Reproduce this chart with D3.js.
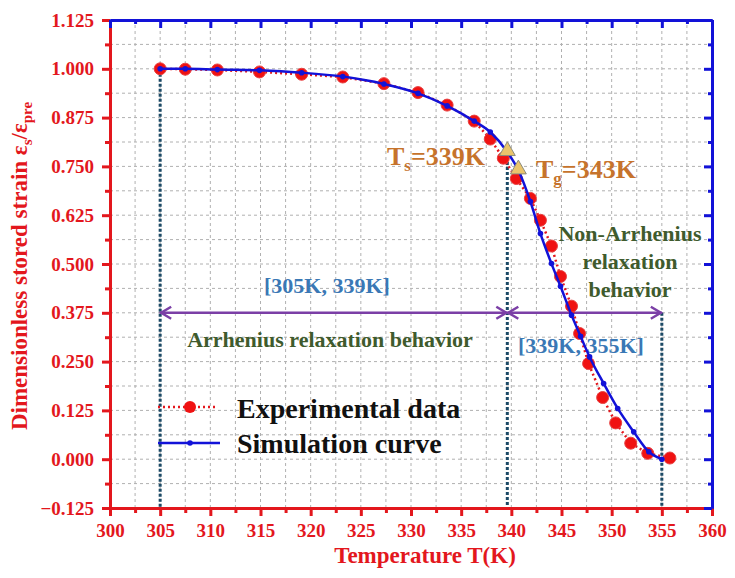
<!DOCTYPE html>
<html>
<head>
<meta charset="utf-8">
<script src="https://d3js.org/d3.v7.min.js"></script>
<style>
  html, body { margin: 0; padding: 0; background: #fff; }
  svg { display: block; font-family: "Liberation Serif", "DejaVu Serif", serif; font-weight: bold; }
</style>
</head>
<body>
<div id="chart"></div>
<script>
// experimental data (red circles)
const expT = [305, 307.5, 310.7, 314.9, 319.1, 323.2, 327.3, 330.7, 333.6, 336.3, 337.9, 339.2,
  340.5, 341.9, 342.9, 344.0, 344.9, 346.0, 346.8, 347.7, 349.1, 350.4, 351.9, 353.6, 355.8];
const expV = [1.000, 0.999, 0.997, 0.992, 0.986, 0.979, 0.962, 0.939, 0.907, 0.866, 0.820, 0.771,
  0.719, 0.668, 0.612, 0.546, 0.468, 0.392, 0.322, 0.245, 0.158, 0.093, 0.041, 0.015, 0.003];

// simulation curve (blue)
const simT = [305, 307.5, 310.7, 314.9, 319.1, 323.2, 327.3, 330.7, 333.6, 336.3, 337.9, 339.6,
  340.7, 341.9, 342.9, 344.0, 344.9, 346.0, 346.9, 347.8, 349.2, 350.6, 352.2, 353.7, 355.0];
const simV = [1.000, 1.000, 0.998, 0.996, 0.990, 0.980, 0.961, 0.937, 0.905, 0.866, 0.838, 0.787,
  0.740, 0.660, 0.578, 0.501, 0.443, 0.369, 0.315, 0.262, 0.194, 0.130, 0.070, 0.019, 0.000];

// characteristic temperatures (marker position)
const markT = [339.6, 340.7];
const markV = [0.787, 0.740];

// range bounds for the arrows / dotted lines
const rangeT = [305, 339.6, 355];
const arrowV = 0.375;

const xTicks = d3.range(300, 361, 5);
const yTicks = d3.range(-0.125, 1.1251, 0.125);

const W = 735, H = 578;
const margin = { top: 20, right: 23, bottom: 70, left: 110 };

const red = "#e3171d", blue = "#1212d8", grid = "#b0b0b0";

const svg = d3.select("#chart").append("svg").attr("width", W).attr("height", H);

const x = d3.scaleLinear().domain([300, 360]).range([margin.left, W - margin.right]);
const y = d3.scaleLinear().domain([-0.125, 1.125]).range([H - margin.bottom, margin.top]);

// grid at every minor step
const gx = d3.range(302.5, 360, 2.5);
const gy = d3.range(-0.0625, 1.125, 0.0625);
svg.append("g").selectAll("line").data(gx).join("line")
  .attr("x1", d => x(d)).attr("x2", d => x(d))
  .attr("y1", y.range()[0]).attr("y2", y.range()[1])
  .attr("stroke", grid).attr("stroke-width", 1).attr("stroke-dasharray", "3,3");
svg.append("g").selectAll("line").data(gy).join("line")
  .attr("y1", d => y(d)).attr("y2", d => y(d))
  .attr("x1", x.range()[0]).attr("x2", x.range()[1])
  .attr("stroke", grid).attr("stroke-width", 1).attr("stroke-dasharray", "3,3");

// dotted vertical guides
const guideTop = [1.0, 0.787, arrowV];
svg.append("g").selectAll("line").data(rangeT).join("line")
  .attr("x1", d => x(d)).attr("x2", d => x(d))
  .attr("y1", (d, i) => y(guideTop[i])).attr("y2", y(-0.125))
  .attr("stroke", "#1c4a66").attr("stroke-width", 3).attr("stroke-dasharray", "3,2");

// purple double arrows
const purple = "#7b3fa6";
const arrows = svg.append("g").attr("stroke", purple).attr("stroke-width", 2.5).attr("fill", "none");
[[rangeT[0], rangeT[1]], [rangeT[1], rangeT[2]]].forEach(([a, b]) => {
  const ya = y(arrowV);
  arrows.append("line").attr("x1", x(a)).attr("x2", x(b)).attr("y1", ya).attr("y2", ya);
  arrows.append("path").attr("d", `M${x(a) + 11},${ya - 6} L${x(a) + 1},${ya} L${x(a) + 11},${ya + 6}`);
  arrows.append("path").attr("d", `M${x(b) - 11},${ya - 6} L${x(b) - 1},${ya} L${x(b) - 11},${ya + 6}`);
});

// annotation texts
const ann = svg.append("g").attr("font-size", 22);
ann.append("text").attr("x", 327).attr("y", 293).attr("text-anchor", "middle")
  .attr("fill", "#3a78b5").text("[305K, 339K]");
ann.append("text").attr("x", 581).attr("y", 353).attr("text-anchor", "middle")
  .attr("fill", "#3a78b5").text("[339K, 355K]");
ann.append("text").attr("x", 330).attr("y", 347).attr("text-anchor", "middle")
  .attr("fill", "#3f5b2d").text("Arrhenius relaxation behavior");
["Non-Arrhenius", "relaxation", "behavior"].forEach((t, i) => {
  ann.append("text").attr("x", 630).attr("y", 241 + i * 28).attr("text-anchor", "middle")
    .attr("fill", "#3f5b2d").text(t);
});

// red dotted experimental line + circles
const line = d3.line().x(d => x(d[0])).y(d => y(d[1]));
const expPts = expT.map((t, i) => [t, expV[i]]);
const simPts = simT.map((t, i) => [t, simV[i]]);

svg.append("path").datum(expPts).attr("d", line)
  .attr("fill", "none").attr("stroke", red).attr("stroke-width", 2.5).attr("stroke-dasharray", "2,3");
svg.append("g").selectAll("circle").data(expPts).join("circle")
  .attr("cx", d => x(d[0])).attr("cy", d => y(d[1])).attr("r", 6)
  .attr("fill", "#f01212").attr("stroke", "#e84040").attr("stroke-width", 1);

// blue simulation curve
svg.append("path").datum(simPts).attr("d", line.curve(d3.curveMonotoneX))
  .attr("fill", "none").attr("stroke", blue).attr("stroke-width", 2.5);
svg.append("g").selectAll("circle").data(simPts).join("circle")
  .attr("cx", d => x(d[0])).attr("cy", d => y(d[1])).attr("r", 2.8).attr("fill", blue);

// triangles for Ts and Tg
const tri = d3.symbol().type(d3.symbolTriangle).size(110);
svg.append("g").selectAll("path").data(markT).join("path")
  .attr("transform", (d, i) => `translate(${x(d)},${y(markV[i]) - 1})`)
  .attr("d", tri).attr("fill", "#eac46c").attr("stroke", "#8c8c7c").attr("stroke-width", 1);

// Ts / Tg labels
const orange = "#c6732c";
function tempLabel(px, py, sub, value) {
  const t = svg.append("text").attr("x", px).attr("y", py).attr("font-size", 26).attr("fill", orange);
  t.append("tspan").text("T");
  t.append("tspan").attr("font-size", 17).attr("dy", 6).text(sub);
  t.append("tspan").attr("dy", -6).text("=" + value);
}
tempLabel(387, 165, "s", "339K");
tempLabel(536, 178, "g", "343K");

// legend
const leg = svg.append("g");
leg.append("line").attr("x1", 158).attr("x2", 217).attr("y1", 407).attr("y2", 407)
  .attr("stroke", red).attr("stroke-width", 2.5).attr("stroke-dasharray", "2,3");
leg.append("circle").attr("cx", 190).attr("cy", 407).attr("r", 6).attr("fill", "#f01212");
leg.append("text").attr("x", 237).attr("y", 418).attr("font-size", 28).attr("fill", "#111")
  .text("Experimental data");
leg.append("line").attr("x1", 158).attr("x2", 220).attr("y1", 443).attr("y2", 443)
  .attr("stroke", blue).attr("stroke-width", 2.5);
leg.append("circle").attr("cx", 190).attr("cy", 443).attr("r", 2.8).attr("fill", blue);
leg.append("text").attr("x", 237).attr("y", 453).attr("font-size", 28).attr("fill", "#111")
  .text("Simulation curve");

// axes
const xMinor = d3.range(302.5, 360, 5);
const yMinor = d3.range(-0.0625, 1.125, 0.125);

function addAxis(axis, tx, ty, cls) {
  return svg.append("g").attr("class", cls).attr("transform", `translate(${tx},${ty})`).call(axis.tickSizeOuter(0));
}
addAxis(d3.axisBottom(x).tickValues(xTicks).tickFormat(d3.format("d")).tickSize(8).tickPadding(8), 0, y(-0.125), "rd");
addAxis(d3.axisBottom(x).tickValues(xMinor).tickFormat("").tickSize(5), 0, y(-0.125), "rd");
addAxis(d3.axisLeft(y).tickValues(yTicks).tickFormat(d3.format(".3f")).tickSize(8).tickPadding(8), x(300), 0, "rd");
addAxis(d3.axisLeft(y).tickValues(yMinor).tickFormat("").tickSize(5), x(300), 0, "rd");
addAxis(d3.axisBottom(x).tickValues(xTicks).tickFormat("").tickSize(8), 0, y(1.125), "bl");
addAxis(d3.axisBottom(x).tickValues(xMinor).tickFormat("").tickSize(4), 0, y(1.125), "bl");
addAxis(d3.axisLeft(y).tickValues(yTicks).tickFormat("").tickSize(8), x(360), 0, "bl");
addAxis(d3.axisLeft(y).tickValues(yMinor).tickFormat("").tickSize(4), x(360), 0, "bl");

svg.selectAll(".domain").attr("stroke-width", 3);
svg.selectAll(".tick line").attr("stroke-width", 3);
svg.selectAll("g.rd .domain, g.rd .tick line").attr("stroke", red);
svg.selectAll("g.bl .domain, g.bl .tick line").attr("stroke", blue);
svg.selectAll(".tick text").attr("fill", red).attr("font-size", 19)
  .attr("font-family", "Liberation Serif, serif").attr("font-weight", "bold");

// axis titles
svg.append("text").attr("x", 425).attr("y", 563).attr("text-anchor", "middle")
  .attr("font-size", 23).attr("fill", red).text("Temperature T(K)");
const yl = svg.append("text").attr("transform", "translate(27,266) rotate(-90)")
  .attr("text-anchor", "middle").attr("font-size", 23).attr("fill", red);
yl.append("tspan").text("Dimensionless stored strain ε");
yl.append("tspan").attr("font-size", 15).attr("dy", 5).text("s");
yl.append("tspan").attr("dy", -5).text("/ε");
yl.append("tspan").attr("font-size", 15).attr("dy", 5).text("pre");
</script>
</body>
</html>
